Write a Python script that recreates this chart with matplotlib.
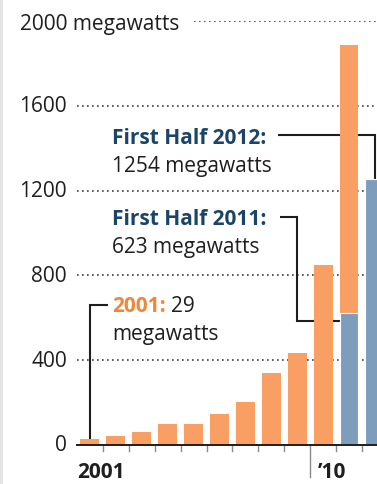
import matplotlib
matplotlib.use("Agg")
import matplotlib.pyplot as plt
from matplotlib import font_manager
from matplotlib.patches import Rectangle
from matplotlib.transforms import offset_copy

# U.S. solar installations, megawatts per year
years = ["2001", "2002", "2003", "2004", "2005", "2006",
         "2007", "2008", "2009", "2010", "2011", "2012"]
full_year = [29, 44, 62, 98, 100, 145, 205, 338, 432, 847, 1887, None]
first_half = [None] * 10 + [623, 1254]
year_labels = {0: "2001", 9: "\u201910"}
y_ticks = [0, 400, 800, 1200, 1600]
y_top = 2000

ORANGE = "#fa9f63"
BLUE = "#7e9dbd"
NAVY = "#1b4566"
ORANGE_TXT = "#ee873a"
INK = "#1e1e1e"

available = {f.name for f in font_manager.fontManager.ttflist}
family = next((f for f in ["Open Sans", "Lato", "Roboto", "DejaVu Sans"] if f in available), "DejaVu Sans")
plt.rcParams["font.family"] = [family, "DejaVu Sans"]
FS = 15

W, H, DPI = 377, 485, 100
fig = plt.figure(figsize=(W / DPI, H / DPI), dpi=DPI)
fig.patch.set_facecolor("white")
fig.add_artist(Rectangle((0, 0), 3 / W, 1, transform=fig.transFigure,
                         facecolor="#e4e4e4", edgecolor="none"))

# plot area: left edge at the gridline start, bottom at the baseline
ax = fig.add_axes([77 / W, (H - 446) / H, 1 - 77 / W, (446 - 22) / H])
ax.set_xlim(-0.5, 11.08)
ax.set_ylim(0, y_top)
ax.axis("off")

bar_w = 0.73
xs = list(range(len(years)))
for x, v in zip(xs, full_year):
    if v is not None:
        ax.bar(x, v, width=bar_w, color=ORANGE, edgecolor="none", zorder=3)
for x, v in zip(xs, first_half):
    if v is not None:
        ax.bar(x, v, width=bar_w, color=BLUE, edgecolor="white", linewidth=0.8, zorder=4)

# dotted gridlines
dots = dict(color="#3e3e3e", linewidth=1.2, linestyle=(0, (1, 2.0)), zorder=1)
for v in y_ticks[1:]:
    ax.plot([-0.5, 11.08], [v, v], **dots)
ax.plot([4.0, 11.08], [y_top, y_top], **dots)

# baseline and year ticks
ax.plot([-0.5, 11.08], [0, 0], color=INK, linewidth=1.4, zorder=5, clip_on=False)
for i in range(len(years) - 1):
    b = i + 0.5
    if b == 8.5:
        ax.plot([b, b], [0, -150], color="#8a8a8a", linewidth=1.0, clip_on=False)
    else:
        ax.plot([b, b], [0, -28], color="#8a8a8a", linewidth=1.0, clip_on=False)

xlab_tf = offset_copy(ax.transData, fig=fig, x=0, y=-32, units="dots")
ax.text(-0.5, 0, year_labels[0], transform=xlab_tf, ha="left", va="baseline",
        fontsize=FS, fontweight="bold", color=INK)
ax.text(8.8, 0, year_labels[9], transform=xlab_tf, ha="left", va="baseline",
        fontsize=FS, fontweight="bold", color=INK)

# y labels
ylab_tf = offset_copy(ax.get_yaxis_transform(), fig=fig, x=-10, y=0, units="dots")
for v in y_ticks:
    ax.text(0, v, str(v), transform=ylab_tf, ha="right", va="center",
            fontsize=FS, color=INK)
top_tf = offset_copy(ax.get_yaxis_transform(), fig=fig, x=-57, y=-8, units="dots")
ax.text(0, y_top, f"{y_top} megawatts", transform=top_tf, ha="left", va="baseline",
        fontsize=FS, color=INK)


def ypx(px):
    # data value for a pixel row of the figure
    return (446 - px) / 0.212


def xpx(px):
    return (px - 90) / 25.9


conn = dict(color=INK, linewidth=1.5, zorder=2, solid_capstyle="butt",
            solid_joinstyle="miter")

# first half 2012
ax.text(xpx(112), ypx(144), "First Half 2012:", fontsize=FS, fontweight="bold",
        color=NAVY, ha="left", va="baseline")
ax.text(xpx(112), ypx(172), f"{first_half[11]} megawatts", fontsize=FS,
        color=INK, ha="left", va="baseline")
ax.plot([xpx(278), 11, 11], [ypx(136), ypx(136), first_half[11]], **conn)

# first half 2011
ax.text(xpx(112), ypx(225), "First Half 2011:", fontsize=FS, fontweight="bold",
        color=NAVY, ha="left", va="baseline")
ax.text(xpx(112), ypx(253), f"{first_half[10]} megawatts", fontsize=FS,
        color=INK, ha="left", va="baseline")
ax.plot([xpx(280), 8, 8, 10 - bar_w / 2], [ypx(218), ypx(218), ypx(322), ypx(322)], **conn)

# 2001
t1 = ax.text(xpx(112), ypx(312), "2001:", fontsize=FS, fontweight="bold",
             color=ORANGE_TXT, ha="left", va="baseline")
ax.annotate(f"{full_year[0]}", xy=(1, 0), xycoords=t1, xytext=(4, 0),
            textcoords="offset points", fontsize=FS, color=INK, ha="left", va="bottom")
ax.text(xpx(112), ypx(340), "megawatts", fontsize=FS, color=INK, ha="left", va="baseline")
ax.plot([xpx(108), 0, 0], [ypx(306), ypx(306), full_year[0]], **conn)

fig.savefig("out.png", dpi=DPI, facecolor=fig.get_facecolor())
